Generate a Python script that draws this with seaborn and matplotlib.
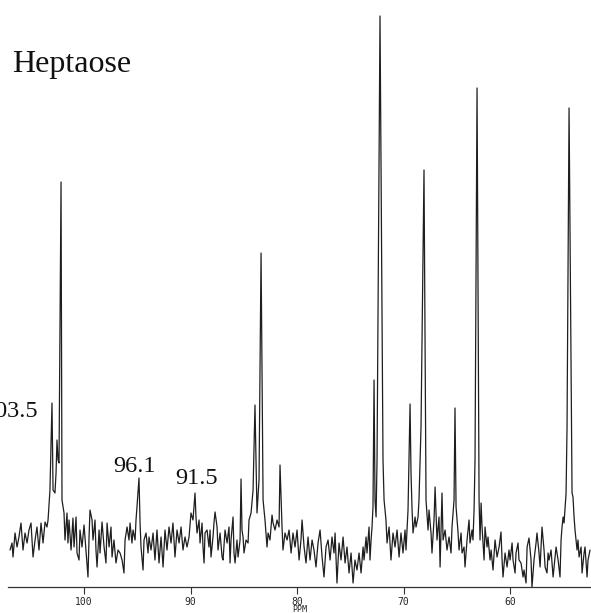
import numpy as np
import pandas as pd
import matplotlib
matplotlib.use("Agg")
import matplotlib.pyplot as plt
import seaborn as sns

# 13C NMR trace of heptaose
ppm = [106.95, 106.76, 106.67, 106.48, 106.29, 106.11, 105.92, 105.73, 105.54, 105.35,
       105.17, 104.98, 104.79, 104.60, 104.42, 104.23, 104.04, 103.85, 103.66, 103.48,
       103.38, 103.20, 103.01, 102.91, 102.73, 102.63, 102.54, 102.44, 102.35, 102.16,
       102.07, 101.97, 101.88, 101.79, 101.60, 101.51, 101.41, 101.22, 101.04, 100.94,
       100.75, 100.66, 100.47, 100.38, 100.19, 100.00, 99.82, 99.63, 99.53, 99.44,
       99.25, 99.16, 98.97, 98.88, 98.78, 98.59, 98.50, 98.31, 98.12, 97.94,
       97.84, 97.65, 97.47, 97.37, 97.19, 97.00, 96.81, 96.62, 96.43, 96.25,
       96.15, 95.96, 95.78, 95.68, 95.50, 95.40, 95.21, 95.12, 95.03, 94.84,
       94.74, 94.65, 94.46, 94.37, 94.18, 93.99, 93.90, 93.71, 93.52, 93.34,
       93.15, 92.96, 92.77, 92.58, 92.40, 92.21, 92.02, 91.83, 91.65, 91.46,
       91.27, 91.08, 90.89, 90.71, 90.52, 90.33, 90.14, 89.96, 89.77, 89.58,
       89.49, 89.39, 89.20, 89.11, 88.92, 88.83, 88.73, 88.64, 88.45, 88.27,
       88.17, 88.08, 87.89, 87.80, 87.70, 87.51, 87.42, 87.23, 87.04, 86.95,
       86.76, 86.57, 86.39, 86.29, 86.20, 86.01, 85.92, 85.82, 85.64, 85.54,
       85.35, 85.26, 85.17, 85.07, 84.98, 84.79, 84.60, 84.51, 84.32, 84.13,
       83.95, 83.76, 83.57, 83.38, 83.19, 83.01, 82.82, 82.72, 82.54, 82.35,
       82.25, 82.07, 81.88, 81.69, 81.60, 81.41, 81.32, 81.13, 80.94, 80.75,
       80.56, 80.38, 80.19, 80.00, 79.81, 79.63, 79.53, 79.34, 79.16, 78.97,
       78.78, 78.59, 78.41, 78.22, 78.03, 77.84, 77.65, 77.47, 77.28, 77.09,
       76.90, 76.72, 76.53, 76.43, 76.25, 76.06, 75.87, 75.68, 75.49, 75.31,
       75.12, 74.93, 74.74, 74.56, 74.37, 74.18, 73.99, 73.80, 73.71, 73.52,
       73.43, 73.24, 73.15, 73.05, 72.96, 72.87, 72.77, 72.68, 72.58, 72.49,
       72.21, 71.93, 71.83, 71.65, 71.55, 71.36, 71.18, 70.99, 70.80, 70.61,
       70.42, 70.24, 70.05, 69.86, 69.77, 69.58, 69.39, 69.30, 69.20, 69.11,
       68.92, 68.83, 68.64, 68.55, 68.36, 68.08, 67.89, 67.70, 67.61, 67.42,
       67.33, 67.14, 67.04, 66.86, 66.67, 66.57, 66.39, 66.29, 66.10, 65.92,
       65.73, 65.54, 65.45, 65.26, 65.17, 65.07, 64.88, 64.79, 64.60, 64.51,
       64.32, 64.23, 64.04, 63.85, 63.76, 63.57, 63.48, 63.38, 63.29, 63.10,
       62.91, 62.82, 62.72, 62.63, 62.44, 62.35, 62.16, 62.07, 61.88, 61.78,
       61.60, 61.41, 61.22, 61.03, 60.85, 60.75, 60.66, 60.47, 60.28, 60.10,
       60.00, 59.81, 59.72, 59.53, 59.44, 59.25, 59.16, 58.97, 58.78, 58.69,
       58.50, 58.40, 58.22, 58.03, 57.94, 57.75, 57.56, 57.47, 57.28, 57.18,
       57.00, 56.81, 56.71, 56.53, 56.43, 56.34, 56.15, 55.96, 55.78, 55.68,
       55.49, 55.31, 55.21, 55.12, 55.02, 54.93, 54.74, 54.65, 54.46, 54.18,
       54.09, 53.99, 53.90, 53.71, 53.62, 53.52, 53.33, 53.24, 53.05, 52.96,
       52.77, 52.68, 52.49]

intensity = [37, 44, 30, 54, 40, 50, 64, 37, 54, 44,
             57, 64, 30, 47, 60, 37, 64, 44, 65, 60,
             67, 97, 184, 97, 94, 114, 147, 127, 124, 405,
             87, 80, 74, 47, 74, 44, 67, 37, 69, 40,
             70, 34, 27, 57, 40, 62, 37, 10, 50, 77,
             67, 47, 67, 37, 20, 57, 34, 65, 40, 24,
             64, 40, 60, 30, 47, 24, 37, 34, 27, 14,
             47, 60, 47, 64, 44, 57, 47, 67, 80, 109,
             64, 40, 17, 47, 54, 34, 50, 37, 54, 27,
             57, 24, 50, 20, 57, 37, 60, 44, 64, 30,
             57, 44, 60, 37, 50, 40, 50, 74, 67, 94,
             70, 54, 67, 44, 64, 40, 24, 54, 57, 40,
             57, 30, 50, 64, 75, 60, 37, 54, 30, 27,
             57, 44, 60, 24, 47, 70, 34, 24, 47, 30,
             47, 108, 57, 50, 34, 47, 44, 67, 74, 97,
             182, 74, 107, 334, 87, 67, 40, 54, 47, 72,
             64, 57, 67, 60, 122, 60, 37, 54, 47, 57,
             34, 54, 40, 57, 27, 47, 67, 40, 24, 50,
             27, 47, 37, 20, 44, 57, 30, 10, 40, 47,
             27, 50, 34, 54, 4, 44, 27, 50, 24, 40,
             14, 34, 4, 27, 17, 34, 14, 40, 27, 50,
             34, 60, 27, 47, 60, 80, 207, 87, 70, 127,
             571, 127, 87, 67, 44, 60, 27, 54, 40, 57,
             30, 54, 34, 57, 37, 77, 183, 114, 77, 54,
             70, 60, 70, 87, 160, 417, 87, 57, 77, 54,
             34, 67, 100, 47, 70, 20, 94, 47, 57, 37,
             50, 34, 60, 87, 179, 80, 54, 37, 54, 34,
             40, 20, 47, 67, 44, 57, 47, 77, 127, 499,
             87, 47, 84, 60, 27, 60, 40, 50, 27, 37,
             17, 47, 30, 40, 55, 27, 10, 34, 20, 37,
             27, 44, 27, 14, 34, 44, 27, 24, 10, 17,
             4, 40, 49, 27, 0, 27, 44, 54, 34, 20,
             60, 37, 20, 14, 34, 27, 37, 10, 30, 40,
             27, 10, 47, 60, 70, 64, 94, 160, 479, 94,
             90, 70, 57, 37, 47, 30, 40, 14, 34, 40,
             10, 27, 37]

tick_values = [100, 90, 80, 70, 60]
peak_labels = ["103.5", "96.1", "91.5"]
title_text = "Heptaose"

df = pd.DataFrame({"ppm": ppm, "intensity": intensity})

sns.set_style("white")
plt.rcParams["font.family"] = ["DejaVu Sans"]

fig = plt.figure(figsize=(5.91, 6.13), dpi=100)
ax = fig.add_axes([8 / 591, 26 / 613, 1 - 8 / 591, 1 - 26 / 613])

sns.lineplot(data=df, x="ppm", y="intensity", sort=False, estimator=None,
             color="#1e1e1e", linewidth=0.9, ax=ax)

ax.set_xlim(107.14, 52.40)
ax.set_ylim(0, 587)

for side in ["top", "left", "right"]:
    ax.spines[side].set_visible(False)
ax.spines["bottom"].set_linewidth(0.9)
ax.spines["bottom"].set_color("#333333")

ax.set_yticks([])
ax.set_xticks(tick_values)
ax.set_xticklabels([str(t) for t in tick_values], family="DejaVu Sans Mono")
ax.tick_params(axis="x", direction="out", length=5, width=0.8, pad=2,
               labelsize=7, color="#333333", bottom=True)
ax.set_xlabel("PPM", fontsize=6, labelpad=-1, family="DejaVu Sans Mono")
ax.set_ylabel("")

# peak annotations
serif = ["Liberation Serif", "DejaVu Serif"]
label_pos = [(104.32, 170, "right"), (97.27, 115, "left"), (91.46, 103, "left")]
for txt, (px, py, ha) in zip(peak_labels, label_pos):
    ax.text(px, py, txt, fontsize=17.5, family=serif, ha=ha, va="baseline",
            color="#111111", clip_on=False)

fig.text(12 / 591, 1 - 72 / 613, title_text, fontsize=23, family=serif,
         ha="left", va="baseline", color="#111111")

fig.savefig("out.png", dpi=100)
